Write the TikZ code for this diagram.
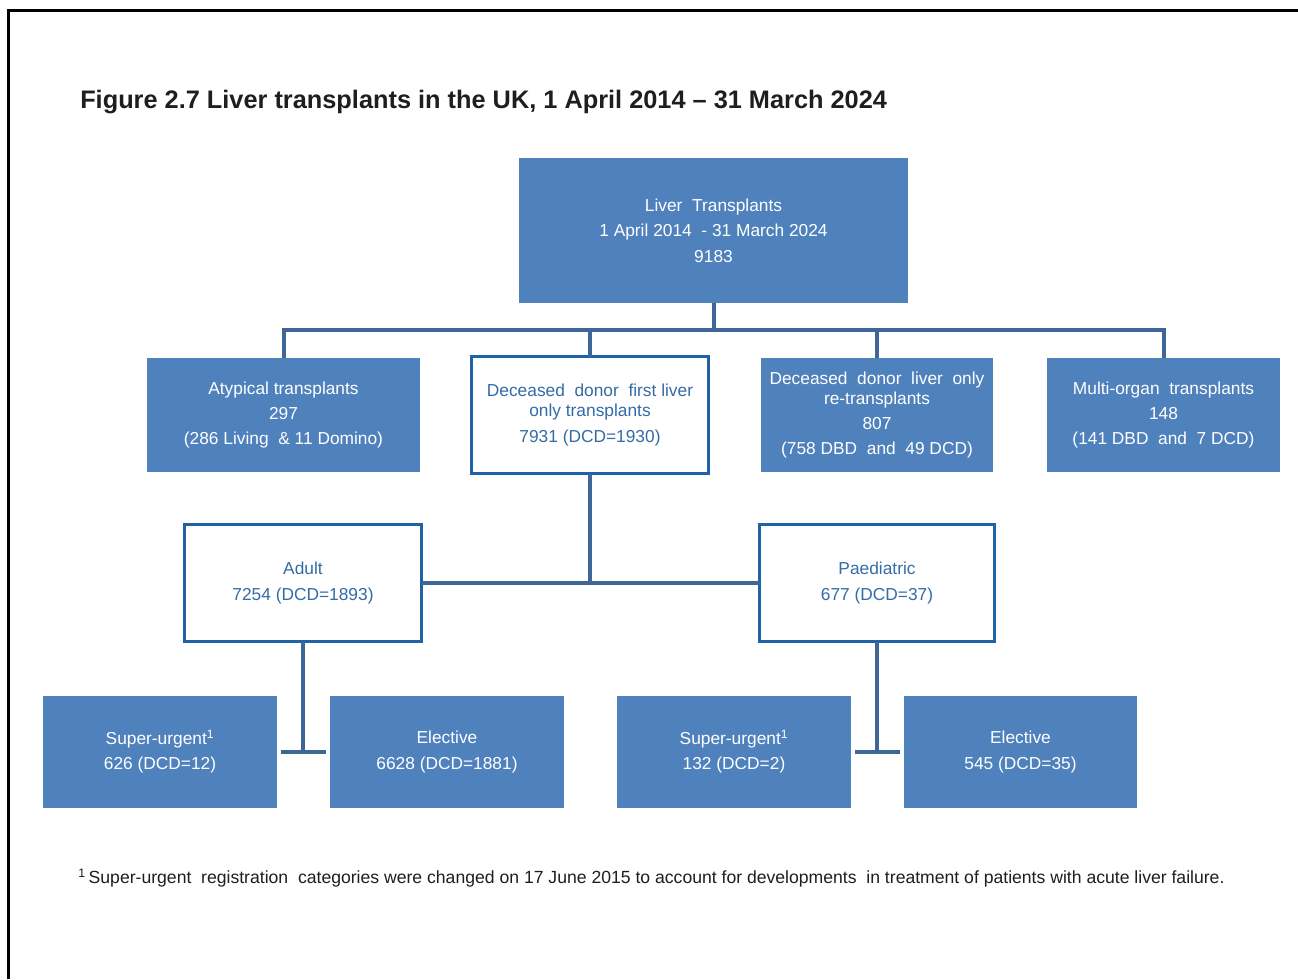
\documentclass[tikz,border=0pt]{standalone}
\usepackage{fontspec}
\setmainfont{Liberation Sans}
\definecolor{boxfill}{RGB}{79,129,189}
\definecolor{connc}{RGB}{63,102,152}
\definecolor{wborder}{RGB}{32,98,168}
\definecolor{wtext}{RGB}{52,108,168}
\definecolor{ftext}{RGB}{30,30,30}
\tikzset{
  boxtxt/.style={font=\fontsize{13}{19}\selectfont, align=center, inner sep=0pt, outer sep=0pt},
  filledbox/.style={boxtxt, rectangle, fill=boxfill, text=white},
  whitebox/.style={boxtxt, rectangle, draw=wborder, line width=2.4pt, fill=white, text=wtext},
  conn/.style={draw=connc, line width=3pt},
  frameline/.style={draw=black, line width=1.8pt}
}
\begin{document}
\begin{tikzpicture}[x=0.75pt, y=-0.75pt]
\useasboundingbox (0,0) rectangle (1298,979);
% frame
\draw[frameline] (8.5,979) -- (8.5,10.5) -- (1298,10.5);
% title
\node[anchor=base west, inner sep=0pt, font=\bfseries\fontsize{19}{22}\selectfont, text=ftext] (title) at (80,108)
  {Figure 2.7 Liver transplants in the UK, 1 April 2014 -- 31 March 2024};
% top
\node[filledbox, minimum width=389*0.75pt, minimum height=145*0.75pt] (top) at (713.5,230.5)
  {Liver~ Transplants\\1 April 2014~ - 31 March 2024\\9183};
% level 2
\node[filledbox, minimum width=273*0.75pt, minimum height=114*0.75pt] (atyp) at (283.5,415)
  {Atypical transplants\\297\\(286 Living~ \& 11 Domino)};
\node[whitebox, minimum width=237*0.75pt, minimum height=117*0.75pt] (dfirst) at (590,415)
  {Deceased~ donor~ first liver\\[-4pt]only transplants\\7931 (DCD=1930)};
\node[filledbox, minimum width=232*0.75pt, minimum height=114*0.75pt] (retr) at (877,415)
  {Deceased~ donor~ liver~ only\\[-4pt]re-transplants\\807\\(758 DBD~ and~ 49 DCD)};
\node[filledbox, minimum width=233*0.75pt, minimum height=114*0.75pt] (multi) at (1163.5,415)
  {Multi-organ~ transplants\\148\\(141 DBD~ and~ 7 DCD)};
% level 3
\node[whitebox, minimum width=237*0.75pt, minimum height=117*0.75pt] (adult) at (303,583)
  {Adult\\7254 (DCD=1893)};
\node[whitebox, minimum width=235*0.75pt, minimum height=117*0.75pt] (paed) at (877,583)
  {Paediatric\\677 (DCD=37)};
% level 4
\node[filledbox, minimum width=234*0.75pt, minimum height=112*0.75pt] (su1) at (160,752)
  {Super-urgent\textsuperscript{1}\\626 (DCD=12)};
\node[filledbox, minimum width=234*0.75pt, minimum height=112*0.75pt] (el1) at (447,752)
  {Elective\\6628 (DCD=1881)};
\node[filledbox, minimum width=234*0.75pt, minimum height=112*0.75pt] (su2) at (734,752)
  {Super-urgent\textsuperscript{1}\\132 (DCD=2)};
\node[filledbox, minimum width=233*0.75pt, minimum height=112*0.75pt] (el2) at (1020.5,752)
  {Elective\\545 (DCD=35)};
% connectors
\coordinate (bus) at (713.5,330);
\draw[conn] (top.south) -- (bus);
\draw[conn] (atyp.north) -- (atyp.north |- bus) -- (multi.north |- bus) -- (multi.north);
\draw[conn] (dfirst.north) -- (dfirst.north |- bus);
\draw[conn] (retr.north) -- (retr.north |- bus);
\draw[conn] (dfirst.south) -- (dfirst.south |- adult.east);
\draw[conn] (adult.east) -- (paed.west);
\draw[conn] (adult.south) -- (adult.south |- su1.east);
\draw[conn] ([xshift=3pt]su1.east) -- ([xshift=-3pt]el1.west);
\draw[conn] (paed.south) -- (paed.south |- su2.east);
\draw[conn] ([xshift=3pt]su2.east) -- ([xshift=-3pt]el2.west);
% footnote
\node[anchor=base west, inner sep=0pt, font=\fontsize{13.2}{15}\selectfont, text=ftext] (foot) at (78,883)
  {\textsuperscript{1}\,Super-urgent~ registration~ categories were changed on 17 June 2015 to account for developments~ in treatment of patients with acute liver failure.};
\end{tikzpicture}
\end{document}
